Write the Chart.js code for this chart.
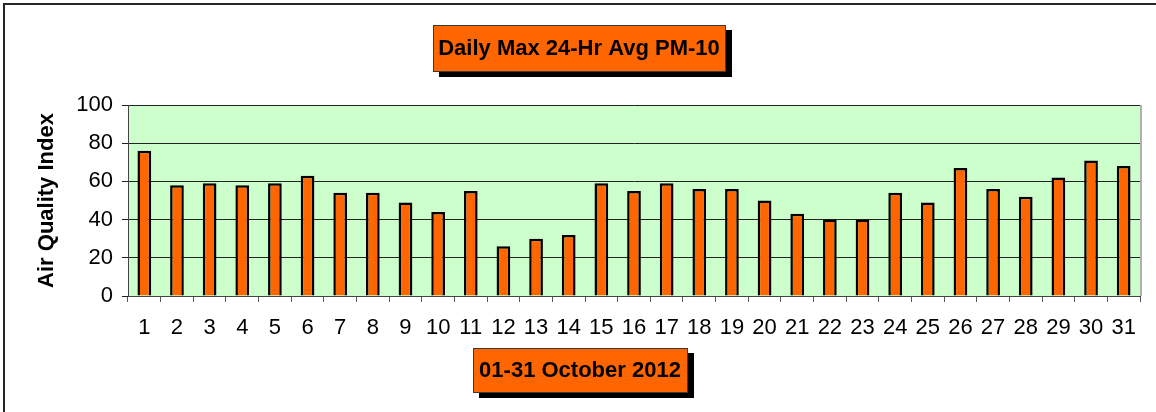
<!DOCTYPE html>
<html>
<head>
<meta charset="utf-8">
<script src="https://cdn.jsdelivr.net/npm/chart.js@4.4.1/dist/chart.umd.min.js"></script>
<style>
   html, body { margin: 0; padding: 0; background: #ffffff; }
   #chart1 { display: block; }
</style>
</head>
<body>
<canvas id="chart1" width="1156" height="412"></canvas>
<script>
const days = ["1", "2", "3", "4", "5", "6", "7", "8", "9", "10", "11", "12", "13", "14", "15", "16",
   "17", "18", "19", "20", "21", "22", "23", "24", "25", "26", "27", "28", "29", "30", "31"];
const aqiValues = [76, 58, 59, 58, 59, 63, 54, 54, 49, 44, 55, 26, 30, 32, 59, 55,
   59, 56, 56, 50, 43, 40, 40, 54, 49, 67, 56, 52, 62, 71, 68];
const yTicks = [0, 20, 40, 60, 80, 100];
const chartTitle = "Daily Max 24-Hr Avg PM-10";
const xTitle = "01-31 October 2012";
const yTitle = "Air Quality Index";

const orange = `#FF6600`;
const font = `"Liberation Sans", Arial, sans-serif`;

function drawBox(ctx, text, cx, cy, w, h) {
   const x = Math.round(cx - w / 2);
   const y = Math.round(cy - h / 2);
   ctx.fillStyle = `#000000`;
   ctx.fillRect(x + 6, y + 5, w, h);
   ctx.fillStyle = orange;
   ctx.fillRect(x, y, w, h);
   ctx.strokeStyle = `#3a3a3a`;
   ctx.lineWidth = 1;
   ctx.strokeRect(x + 0.5, y + 0.5, w - 1, h - 1);
   ctx.fillStyle = `#000000`;
   ctx.font = `bold 22px ${font}`;
   ctx.textAlign = "center";
   ctx.textBaseline = "middle";
   ctx.fillText(text, cx, cy + 1);
}

const decorations = {
   id: "decorations",
   beforeDraw(chart) {
      const { ctx, chartArea } = chart;
      ctx.save();
      ctx.fillStyle = `#CCFFCC`;
      ctx.fillRect(chartArea.left, chartArea.top, chartArea.right - chartArea.left, chartArea.bottom - chartArea.top);
      ctx.restore();
   },
   afterDraw(chart) {
      const { ctx, chartArea } = chart;
      ctx.save();
      // right edge of plot
      ctx.fillStyle = `#b0b0b0`;
      ctx.fillRect(chartArea.right, chartArea.top, 2, chartArea.bottom - chartArea.top);
      // outer frame, top and left only
      ctx.fillStyle = `#262626`;
      ctx.fillRect(3, 3, 1153, 2);
      ctx.fillRect(3, 3, 2, 409);
      drawBox(ctx, chartTitle, 579, 48, 293, 47);
      drawBox(ctx, xTitle, 580, 370, 215, 45);
      ctx.restore();
   }
};

function drawChart(canva) {
   const config = {
      type: "bar",
      data: {
         labels: days,
         datasets: [{
            label: yTitle,
            data: aqiValues,
            backgroundColor: orange,
            borderColor: `#000000`,
            borderWidth: 2.5,
            categoryPercentage: 1,
            barPercentage: 0.42,
         }]
      },
      options: {
         responsive: false,
         animation: false,
         layout: {
            padding: { left: 30, top: 105, right: 16, bottom: 0 }
         },
         plugins: {
            legend: { display: false },
            tooltip: { enabled: false },
            title: { display: false }
         },
         scales: {
            x: {
               grid: {
                  offset: true,
                  drawOnChartArea: false,
                  drawTicks: true,
                  tickLength: 6,
                  color: `#555555`,
               },
               border: { color: `#444444`, width: 1 },
               ticks: {
                  color: `#000000`,
                  font: { family: font, size: 22 },
                  padding: 13,
                  maxRotation: 0,
                  autoSkip: false,
               },
               afterFit: (scale) => { scale.height = 116; }
            },
            y: {
               min: 0,
               max: 100,
               grid: {
                  color: `#222222`,
                  tickLength: 6,
               },
               border: { color: `#444444`, width: 1 },
               afterBuildTicks: (scale) => {
                  scale.ticks = yTicks.map(v => ({ value: v }));
               },
               ticks: {
                  color: `#000000`,
                  font: { family: font, size: 22 },
                  padding: 9,
               },
               title: {
                  display: true,
                  text: yTitle,
                  color: `#000000`,
                  font: { family: font, size: 22, weight: "bold" },
                  padding: { top: 4, bottom: 0 }
               },
               afterFit: (scale) => { scale.width = 98; }
            }
         }
      },
      plugins: [decorations]
   };
   return new Chart(canva, config);
}

drawChart(document.querySelector("#chart1"));
</script>
</body>
</html>
